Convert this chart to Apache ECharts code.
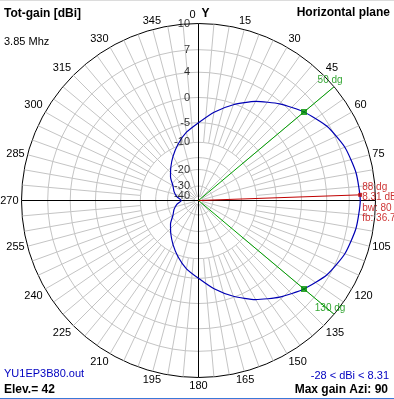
<!DOCTYPE html>
<html><head><meta charset="utf-8">
<script src="https://cdn.jsdelivr.net/npm/echarts@6/dist/echarts.min.js"></script>
<style>html,body{margin:0;padding:0;background:#fff;overflow:hidden}#c{width:394px;height:399px}</style>
</head><body><div id="c"></div>
<script>
// ---- data ----
const azimuths = [0,10,20,30,40,50,60,70,80,90,100,110,120,130,140,150,160,170,180,
                  190,200,210,220,230,240,250,260,270,280,290,300,310,320,330,340,350,360];
const gainDbi  = [-5.0,-2.5,-0.2,1.9,3.7,5.31,6.7,7.6,8.1,8.31,8.1,7.6,6.7,5.31,3.7,1.9,-0.2,-2.5,-5.0,
                  -7.0,-9.5,-12.2,-14.9,-17.5,-20.7,-22.5,-24.8,-28.0,-24.8,-22.5,-20.7,-17.5,-14.9,-12.2,-9.5,-7.0,-5.0];
const ringLevels = [7,4,0,-5,-10,-15,-20,-30,-40];
const radialTickValues = [10,7,4,0,-5,-10,-20,-30,-40];
const radialTickLabels = ['10','7','4','0','-5','-10','-20','-30','-40'];
const outerLevel = 10;
const maxGainAzi = 88, maxGainDb = 8.31;
const halfPowerAzi = [50,130], halfPowerDb = 5.31;
const beamwidth = 80, frontBack = 36.7;
const minDbi = -28, maxDbi = 8.31;
const freqText = '3.85 Mhz', fileText = 'YU1EP3B80.out', elevText = 'Elev.= 42', maxAziText = 'Max gain Azi: 90';

// ---- radial scale (log-like dB scale) ----
function rad(db){ return 114*Math.exp(0.05*db) - 11; }
const R_OUT = rad(outerLevel);

const FONT = 'Liberation Sans, Arial, sans-serif';
const series = [];
const hidden = {color:'rgba(0,0,0,0)'};

// rings
ringLevels.forEach(l => {
  const d = [];
  for (let a = 0; a <= 360; a += 5) d.push([rad(l), a]);
  series.push({type:'line', coordinateSystem:'polar', data:d, symbol:'none', silent:true,
    lineStyle:{color:'#c4c4c4', width:1}, z:1});
});
// spokes
for (let a = 5; a < 360; a += 5) {
  if (a % 90 === 0) continue;
  const rin = (a % 15 === 0) ? rad(-40) : rad(-10);
  series.push({type:'line', coordinateSystem:'polar', data:[[rin,a],[R_OUT,a]], symbol:'none', silent:true,
    lineStyle:{color:'#c4c4c4', width:1}, z:1});
}
// main axes
series.push({type:'line', coordinateSystem:'polar', data:[[R_OUT,270],[R_OUT,90]], symbol:'none', silent:true,
  lineStyle:{color:'#000', width:1}, z:2});
series.push({type:'line', coordinateSystem:'polar', data:[[R_OUT,0],[R_OUT,180]], symbol:'none', silent:true,
  lineStyle:{color:'#000', width:1}, z:2});
// half power lines
halfPowerAzi.forEach(a => {
  series.push({type:'line', coordinateSystem:'polar', data:[[0,a],[R_OUT,a]], symbol:'none', silent:true,
    lineStyle:{color:'#00a000', width:1}, z:3});
  series.push({type:'scatter', coordinateSystem:'polar', data:[[rad(halfPowerDb),a]], symbol:'rect', symbolSize:6,
    itemStyle:{color:'#009000'}, z:6});
  series.push({type:'scatter', coordinateSystem:'polar', data:[[R_OUT,a]], symbol:'circle', symbolSize:1,
    itemStyle:hidden,
    label:{show:true, position:'top', distance:1, offset:[-4,0], formatter: a + ' dg', color:'#009000', fontSize:10, fontFamily:FONT}, z:6});
});
// max gain line
series.push({type:'line', coordinateSystem:'polar', data:[[0,0],[rad(maxGainDb),maxGainAzi]], symbol:'none', silent:true,
  lineStyle:{color:'#c00000', width:1}, z:4});
series.push({type:'scatter', coordinateSystem:'polar', data:[[rad(maxGainDb),maxGainAzi]], symbol:'rect', symbolSize:4,
  itemStyle:{color:'#c00000'},
  label:{show:true, position:'right', distance:0, offset:[0,8], align:'left', verticalAlign:'middle',
    formatter: [maxGainAzi+' dg', maxGainDb+' dB', 'bw: '+beamwidth+' dg', 'fb: '+frontBack+' dB'].join('\n'),
    color:'#c00000', fontSize:10, lineHeight:10.5, fontFamily:FONT}, z:7});
// pattern
series.push({type:'line', coordinateSystem:'polar', data: azimuths.map((a,i)=>[rad(gainDbi[i]), a]),
  symbol:'none', smooth:0.2, lineStyle:{color:'#0000b4', width:1.2}, z:5});
// radial tick labels
series.push({type:'scatter', coordinateSystem:'polar', symbol:'circle', symbolSize:1, itemStyle:hidden,
  data: radialTickValues.map((v,i)=>({value:[rad(v),0], name:radialTickLabels[i]})),
  label:{show:true, position:'left', distance:8, formatter:'{b}', color:'#000', fontSize:11, fontFamily:FONT}, z:8});

const chart = echarts.init(document.getElementById('c'), null, {renderer:'canvas'});
function txt(text, x, y, align, font, fill){
  return {type:'text', x:x, y:y, silent:true, z:100,
    style:{text:text, fill:fill||'#000', font:font, align:align, verticalAlign:'middle', textAlign:align, textVerticalAlign:'middle'}};
}
chart.setOption({
  animation:false,
  backgroundColor:'#fff',
  textStyle:{fontFamily:FONT},
  polar:{center:[198.5,200.5], radius:177},
  angleAxis:{type:'value', min:0, max:360, interval:15, startAngle:90, clockwise:true,
    axisLine:{show:true, lineStyle:{color:'#000', width:1}},
    axisTick:{show:false}, splitLine:{show:false}, minorSplitLine:{show:false},
    axisLabel:{show:true, margin:3, color:'#000', fontSize:11, fontFamily:FONT,
      formatter: v => (v % 360 === 0 || v === 90) ? '' : String(v)}},
  radiusAxis:{type:'value', min:0, max:R_OUT, axisLine:{show:false}, axisTick:{show:false},
    axisLabel:{show:false}, splitLine:{show:false}},
  series: series,
  graphic: [
    {type:'rect', shape:{x:0,y:0,width:394,height:1}, style:{fill:'#dcdcdc'}, silent:true},
    {type:'rect', shape:{x:0,y:398,width:394,height:1}, style:{fill:'#3a78d8'}, silent:true},
    txt('Tot-gain [dBi]', 4, 13.5, 'left', 'bold 12px '+FONT),
    txt(freqText, 4, 41.5, 'left', '11px '+FONT),
    txt('Horizontal plane', 390, 13, 'right', 'bold 12px '+FONT),
    txt('0', 192.5, 15, 'center', '11px '+FONT),
    txt('Y', 205.5, 14, 'center', 'bold 12px '+FONT),
    txt(fileText, 4, 374, 'left', '11px '+FONT, '#0000c0'),
    txt(elevText, 4, 390, 'left', 'bold 12px '+FONT),
    txt(minDbi + ' < dBi < ' + maxDbi, 389, 376, 'right', '11px '+FONT, '#0000c0'),
    txt(maxAziText, 388, 390, 'right', 'bold 12px '+FONT)
  ]
});
</script></body></html>
